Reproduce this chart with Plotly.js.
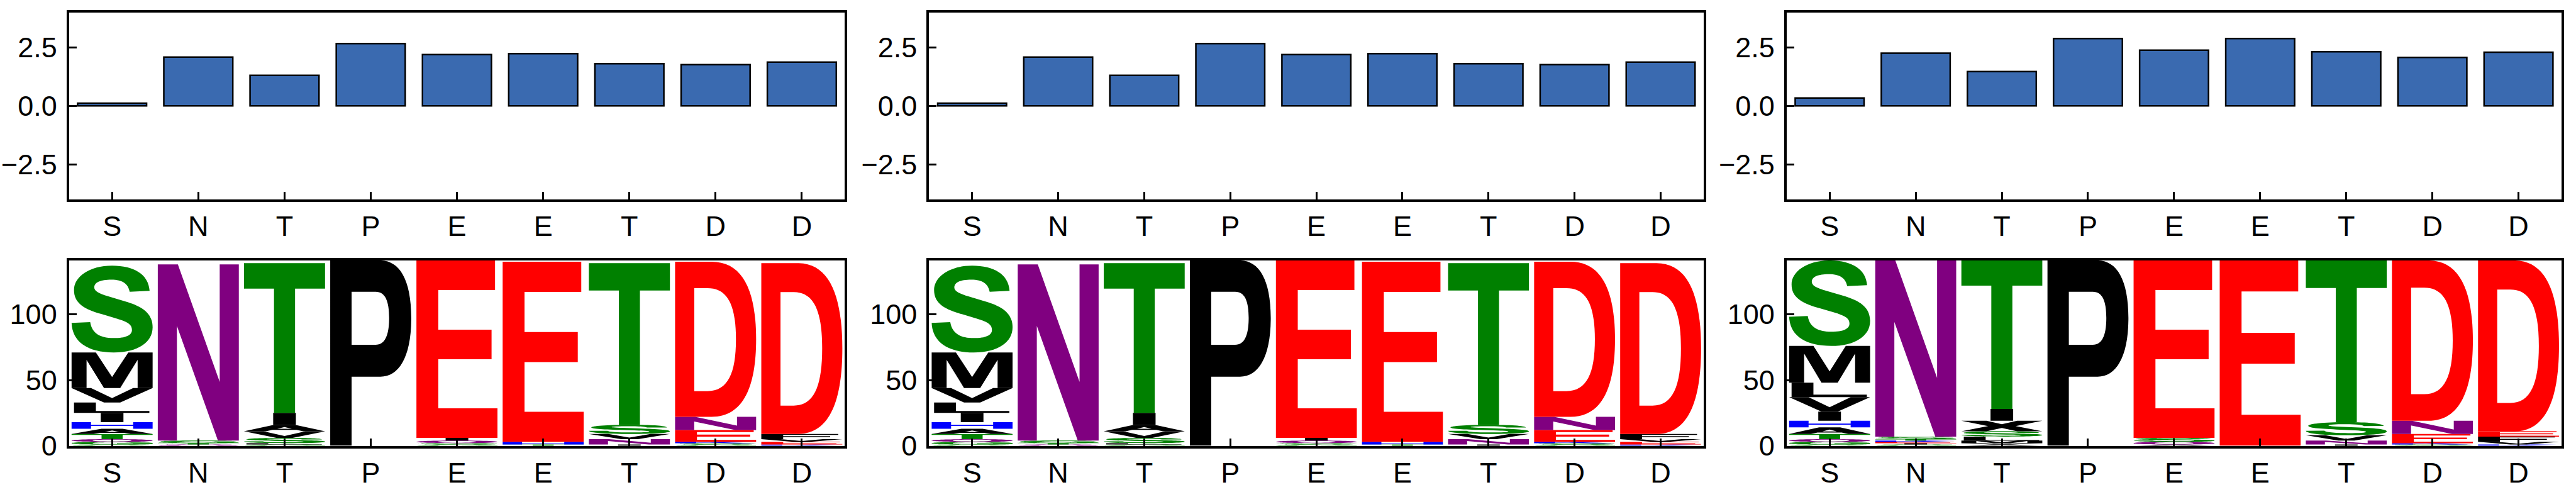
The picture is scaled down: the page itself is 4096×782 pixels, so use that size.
<!DOCTYPE html>
<html><head><meta charset="utf-8">
<script src="https://cdn.plot.ly/plotly-3.0.1.min.js"></script>
<style>html,body{margin:0;padding:0;background:#fff}#chart{width:4096px;height:782px}</style>
</head><body><div id="chart"></div>
<script>
// ---------- data ----------
const positions = ["S","N","T","P","E","E","T","D","D"];

const barValues1 = [0.12, 2.09, 1.31, 2.67, 2.20, 2.24, 1.81, 1.77, 1.88];
const barValues2 = [0.12, 2.09, 1.31, 2.67, 2.20, 2.24, 1.81, 1.77, 1.88];
const barValues3 = [0.34, 2.26, 1.47, 2.89, 2.39, 2.89, 2.32, 2.08, 2.30];

// logo stacks, listed bottom -> top
const logo1Letters = [
  ["C","G","Q","T","A","H","I","L","V","M","S"],
  ["Q","T","S","N"],
  ["G","L","S","V","A","I","T"],
  ["P"],
  ["G","S","Q","I","E"],
  ["T","H","E"],
  ["I","N","V","S","T"],
  ["G","S","K","E","N","D"],
  ["K","E","V","F","D"]
];
const logo1Counts = [
  [1,2,2,4,4,5,7,8,11,27,66],
  [1,1,2,134],
  [1,1,4,5,5,9,114],
  [141],
  [1,1,2,2,135],
  [1,2,137],
  [1,4,4,7,123],
  [1,1,1,9,10,118],
  [1,2,2,4,130]
];
const logo2Letters = logo1Letters.map(a => a.slice());
const logo2Counts = [
  [1,2,2,4,4,5,7,8,11,27,66],
  [1,1,2,134],
  [1,1,4,5,5,9,114],
  [141],
  [1,1,2,2,135],
  [1,2,137],
  [1,4,4,7,123],
  [1,1,1,9,10,118],
  [1,2,2,4,130]
];
const logo3Letters = [
  ["C","G","Q","T","A","H","I","V","L","M","S"],
  ["G","I","E","K","T","S","N"],
  ["A","V","M","L","S","X","I","T"],
  ["P"],
  ["A","Q","S","E"],
  ["E"],
  ["I","N","V","S","T"],
  ["S","K","E","N","D"],
  ["K","V","F","E","D"]
];
const logo3Counts = [
  [1,2,2,4,5,5,7,11,11,28,65],
  [1,1,1,1,1,2,134],
  [1,1,2,3,4,8,9,113],
  [141],
  [1,2,3,135],
  [141],
  [1,3,4,10,123],
  [1,1,7,10,122],
  [1,2,4,4,130]
];
const yTicksBar = [-2.5, 0, 2.5];
const yTicksLogo = [0, 50, 100];

// ---------- styles ----------
const BAR_COLOR = '#3A6AB0';
const LETTER_COLORS = {G:'#008000',S:'#008000',T:'#008000',Y:'#008000',C:'#008000',
  N:'#800080',Q:'#800080', K:'#0000FF',R:'#0000FF',H:'#0000FF', D:'#FF0000',E:'#FF0000'};
const GLYPHS = {
  S:"M0.963,0.71 C0.95,0.9 0.77,1 0.5,1 C0.22,1 0.03,0.87 0.03,0.72 C0.03,0.57 0.15,0.5 0.38,0.44 L0.56,0.39 C0.7,0.35 0.745,0.32 0.745,0.26 C0.745,0.2 0.67,0.166 0.52,0.166 C0.34,0.166 0.25,0.23 0.23,0.35 L0,0.34 C0.01,0.12 0.2,0 0.52,0 C0.82,0 1,0.12 1,0.29 C1,0.45 0.88,0.53 0.66,0.59 L0.46,0.645 C0.33,0.68 0.28,0.71 0.28,0.75 C0.28,0.81 0.36,0.84 0.49,0.84 C0.63,0.84 0.7,0.79 0.717,0.7 Z",
  N:"M0,0 L0.236,0 L0.236,0.651 L0.742,0 L1,0 L1,1 L0.764,1 L0.764,0.333 L0.248,1 L0,1 Z",
  T:"M0.37,0 L0.63,0 L0.63,0.83 L1,0.83 L1,1 L0,1 L0,0.83 L0.37,0.83 Z",
  P:"M0,0 L0,1 L0.62,1 C0.85,1 1,0.9 1,0.69 C1,0.48 0.85,0.373 0.62,0.373 L0.264,0.373 L0.264,0 Z M0.264,0.545 L0.264,0.831 L0.56,0.831 C0.68,0.831 0.727,0.78 0.727,0.69 C0.727,0.6 0.68,0.545 0.56,0.545 Z",
  E:"M0,0 L1,0 L1,0.167 L0.27,0.167 L0.27,0.443 L0.927,0.443 L0.927,0.61 L0.27,0.61 L0.27,0.833 L0.97,0.833 L0.97,1 L0,1 Z",
  D:"M0,0 L0,1 L0.45,1 C0.85,1 1,0.8 1,0.5 C1,0.2 0.85,0 0.45,0 Z M0.237,0.166 L0.237,0.83 L0.4,0.83 C0.65,0.83 0.751,0.72 0.751,0.5 C0.751,0.28 0.65,0.166 0.4,0.166 Z",
  M:"M0,0 L0,1 L0.3,1 L0.5,0.31 L0.7,1 L1,1 L1,0 L0.815,0 L0.815,0.79 L0.6,0 L0.4,0 L0.185,0.79 L0.185,0 Z",
  V:"M0,1 L0.24,1 L0.5,0.3 L0.76,1 L1,1 L0.6,0 L0.4,0 Z",
  L:"M0.03,0 L0.96,0 L0.96,0.18 L0.3,0.18 L0.3,1 L0.03,1 Z",
  I:"M0.36,0 L0.64,0 L0.64,1 L0.36,1 Z",
  H:"M0,0 L0,1 L0.24,1 L0.24,0.58 L0.76,0.58 L0.76,1 L1,1 L1,0 L0.76,0 L0.76,0.42 L0.24,0.42 L0.24,0 Z",
  A:"M0,0 L0.37,1 L0.63,1 L1,0 L0.73,0 L0.65,0.22 L0.35,0.22 L0.27,0 Z M0.41,0.38 L0.59,0.38 L0.5,0.66 Z",
  C:"M0.74,0.37 L0.98,0.3 C0.92,0.1 0.76,0 0.52,0 C0.2,0 0,0.2 0,0.5 C0,0.81 0.2,1 0.52,1 C0.75,1 0.91,0.9 0.97,0.71 L0.73,0.65 C0.7,0.78 0.62,0.84 0.51,0.84 C0.35,0.84 0.26,0.72 0.26,0.5 C0.26,0.27 0.35,0.16 0.51,0.16 C0.63,0.16 0.71,0.23 0.74,0.37 Z",
  G:"M0.56,0.37 L0.56,0.53 L1,0.53 L1,0.14 C0.92,0.06 0.74,0 0.54,0 C0.2,0 0,0.2 0,0.5 C0,0.82 0.22,1 0.54,1 C0.8,1 0.95,0.88 0.99,0.7 L0.74,0.65 C0.71,0.77 0.63,0.84 0.53,0.84 C0.35,0.84 0.26,0.72 0.26,0.5 C0.26,0.26 0.36,0.16 0.53,0.16 C0.62,0.16 0.7,0.19 0.76,0.24 L0.76,0.37 Z",
  Q:"M0.5,0 C0.2,0 0,0.2 0,0.5 C0,0.8 0.2,1 0.5,1 C0.8,1 1,0.8 1,0.5 C1,0.2 0.8,0 0.5,0 Z M0.5,0.16 C0.34,0.16 0.26,0.28 0.26,0.5 C0.26,0.72 0.34,0.84 0.5,0.84 C0.66,0.84 0.74,0.72 0.74,0.5 C0.74,0.28 0.66,0.16 0.5,0.16 Z",
  K:"M0,0 L0,1 L0.26,1 L0.26,0.56 L0.66,1 L1,1 L0.6,0.6 L1,0 L0.67,0 L0.42,0.42 L0.26,0.26 L0.26,0 Z",
  F:"M0,0 L0,1 L0.95,1 L0.95,0.83 L0.27,0.83 L0.27,0.58 L0.85,0.58 L0.85,0.41 L0.27,0.41 L0.27,0 Z",
  X:"M0,1 L0.31,1 L0.5,0.68 L0.69,1 L1,1 L0.67,0.5 L1,0 L0.69,0 L0.5,0.32 L0.31,0 L0,0 L0.33,0.5 Z"
};
const FONT = {family:'Liberation Sans, Arial, sans-serif', size:45, color:'#000'};
const colDomains = [[0.02678,0.32800],[0.36067,0.66136],[0.69354,0.99440]];
const barDomain = [0.5950,0.9744];
const logoDomain = [0.0939,0.4706];
const LETTER_W = 0.94;

function glyphPath(letter, x0, x1, y0, y1){
  const w = x1-x0, h = y1-y0;
  return GLYPHS[letter].replace(/(-?\d*\.?\d+),(-?\d*\.?\d+)/g,
    (m,a,b)=> (x0+parseFloat(a)*w).toFixed(5)+','+(y0+parseFloat(b)*h).toFixed(5));
}

const idx = positions.map((_,i)=>i);
const barSets = [barValues1, barValues2, barValues3];
const logoSets = [[logo1Letters,logo1Counts],[logo2Letters,logo2Counts],[logo3Letters,logo3Counts]];

const data = [];
const shapes = [];
const layout = {width:4096, height:782, margin:{l:0,r:0,t:0,b:0}, showlegend:false,
  paper_bgcolor:'#fff', plot_bgcolor:'#fff', font:FONT, shapes:shapes};

function axisBase(){
  return {showline:true, mirror:true, linewidth:4, linecolor:'#000', ticks:'inside',
    ticklen:12, tickwidth:3, tickcolor:'#000', showgrid:false, zeroline:false,
    tickfont:FONT, fixedrange:true};
}

for (let p=0; p<3; p++){
  const bx = p===0 ? 'x' : 'x'+(p+1), by = p===0 ? 'y' : 'y'+(p+1);
  const lx = 'x'+(p+4), ly = 'y'+(p+4);
  data.push({type:'bar', x:idx, y:barSets[p], xaxis:bx, yaxis:by, width:0.8,
    marker:{color:BAR_COLOR, line:{color:'#000', width:2.5}}, hoverinfo:'skip'});
  data.push({type:'scatter', mode:'markers', x:[null], y:[null], xaxis:lx, yaxis:ly, hoverinfo:'skip'});

  const kx = p===0 ? 'xaxis' : 'xaxis'+(p+1), ky = p===0 ? 'yaxis' : 'yaxis'+(p+1);
  layout[kx] = Object.assign(axisBase(), {domain:colDomains[p], anchor:by, range:[-0.5,8.5],
    tickvals:idx, ticktext:positions});
  layout[ky] = Object.assign(axisBase(), {domain:barDomain, anchor:bx, range:[-4,4],
    tickvals:yTicksBar, tickformat:'.1f', ticklabelstandoff:6});
  layout['xaxis'+(p+4)] = Object.assign(axisBase(), {domain:colDomains[p], anchor:ly, range:[-0.5,8.5],
    tickvals:idx, ticktext:positions});
  layout['yaxis'+(p+4)] = Object.assign(axisBase(), {domain:logoDomain, anchor:lx, range:[0,141],
    tickvals:yTicksLogo, ticklabelstandoff:6});

  const [letters, counts] = logoSets[p];
  letters.forEach((stack, i) => {
    let y = 0;
    stack.forEach((ch, j) => {
      const c = counts[i][j];
      shapes.push({type:'path', xref:lx, yref:ly, layer:'below',
        path: glyphPath(ch, i-LETTER_W/2, i+LETTER_W/2, y, y+c),
        fillcolor: LETTER_COLORS[ch] || '#000000', fillrule:'evenodd', line:{width:0}});
      y += c;
    });
  });
}

Plotly.newPlot('chart', data, layout, {staticPlot:true, displayModeBar:false});
</script></body></html>
